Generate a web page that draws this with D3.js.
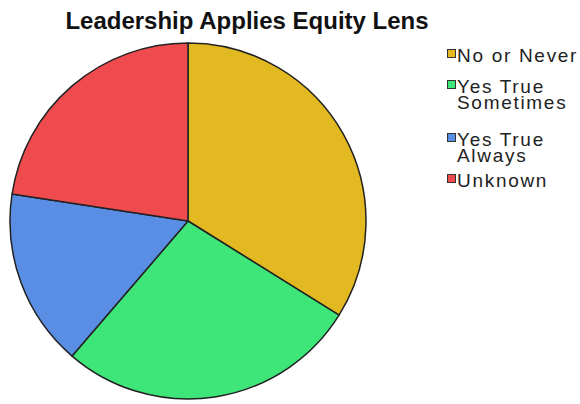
<!DOCTYPE html>
<html>
<head>
<meta charset="utf-8">
<script src="https://cdn.jsdelivr.net/npm/d3@7"></script>
<style>
  html, body { margin: 0; padding: 0; background: #fff; }
  svg { display: block; font-family: "Liberation Sans", Arial, sans-serif; }
</style>
</head>
<body>
<div id="chart"></div>
<script>
// values
const categories = ["No or Never", "Yes True Sometimes", "Yes True Always", "Unknown"];
const legendLines = [["No or Never"], ["Yes True", "Sometimes"], ["Yes True", "Always"], ["Unknown"]];
const counts = [21, 17, 10, 14];
const colors = ["#E2B920", "#3EE67A", "#5A8EE4", "#EF4B4F"];

// legend layout (baseline of the first line of each entry)
const legendY = [62, 93, 146, 187];

const width = 580, height = 404;
const cx = 188, cy = 221, radius = 178;

const svg = d3.select('#chart')
    .append('svg')
    .attr('width', width)
    .attr('height', height);

svg.append('text')
    .attr('x', 247)
    .attr('y', 29)
    .attr('text-anchor', 'middle')
    .attr('font-size', 24)
    .attr('font-weight', 'bold')
    .attr('fill', '#111')
    .text('Leadership Applies Equity Lens');

const pie = d3.pie().sort(null).value(d => d);
const arc = d3.arc().innerRadius(0).outerRadius(radius);

svg.append('g')
    .attr('transform', `translate(${cx},${cy})`)
    .selectAll('path')
    .data(pie(counts))
    .join('path')
    .attr('d', arc)
    .attr('fill', (d, i) => colors[i])
    .attr('stroke', '#222')
    .attr('stroke-width', 1.5)
    .attr('stroke-linejoin', 'round');

// legend
const lineH = 15.5;
const legend = svg.append('g');
legendLines.forEach((lines, i) => {
    const y = legendY[i];
    legend.append('rect')
        .attr('x', 447.5)
        .attr('y', y - 12.5)
        .attr('width', 8)
        .attr('height', 8)
        .attr('fill', colors[i])
        .attr('stroke', '#333')
        .attr('stroke-width', 1);
    lines.forEach((t, j) => {
        legend.append('text')
            .attr('x', 457)
            .attr('y', y + j * lineH)
            .attr('font-size', 19)
            .attr('letter-spacing', 1.7)
            .attr('fill', '#222')
            .text(t);
    });
});
</script>
</body>
</html>
